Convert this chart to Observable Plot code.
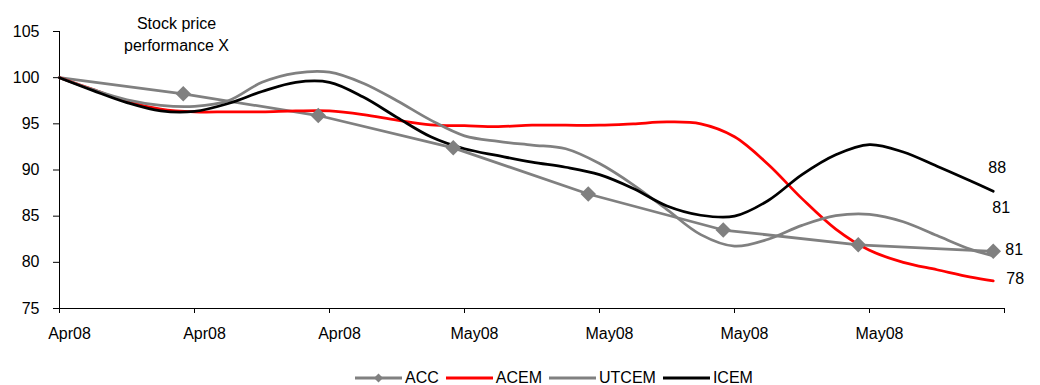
<!DOCTYPE html>
<html>
<head>
<meta charset="utf-8">
<script src="https://cdn.jsdelivr.net/npm/d3@7"></script>
<script src="https://cdn.jsdelivr.net/npm/@observablehq/plot@0.6"></script>
<style>
  body { margin: 0; background: #fff; font-family: "Liberation Sans", Arial, sans-serif; }
  #wrap { position: relative; width: 1040px; height: 385px; overflow: hidden; }
  #legend { position: absolute; top: 366px; left: 355px; height: 24px; display: flex; align-items: center; font-size: 16px; color: #000; }
  .item { display: flex; align-items: center; margin-right: 7px; }
  .item span { margin-left: 3px; }
</style>
</head>
<body>
<div id="wrap">
  <div id="chart"></div>
  <div id="legend"></div>
</div>
<script>
// Trading-day index along the x axis, one tick every 12 sessions
const tickDays = [0, 12, 24, 36, 48, 60, 72, 84];
const labelDays = [0, 12, 24, 36, 48, 60, 72];
const tickLabels = ["Apr08", "Apr08", "Apr08", "May08", "May08", "May08", "May08"];
const yTicks = [75, 80, 85, 90, 95, 100, 105];

// Rebased prices (start = 100), sampled every 3 sessions
const days = [0, 3, 6, 9, 12, 15, 18, 21, 24, 27, 30, 33, 36, 39, 42, 45, 48, 51, 54, 57, 60, 63, 66, 69, 72, 75, 78, 81, 83];
const acem  = [100, 98.7, 97.4, 96.6, 96.3, 96.3, 96.3, 96.4, 96.4, 96.0, 95.4, 94.9, 94.8, 94.7, 94.85, 94.85, 94.85, 95.0, 95.2, 95.0, 93.6, 90.6, 86.9, 83.6, 81.3, 80.0, 79.2, 78.4, 78.0];
const utcem = [100, 98.7, 97.6, 97.0, 96.9, 97.5, 99.5, 100.5, 100.6, 99.4, 97.5, 95.4, 93.7, 93.1, 92.7, 92.3, 90.7, 88.4, 85.7, 83.0, 81.75, 82.5, 84.0, 85.05, 85.2, 84.4, 82.9, 81.4, 80.7];
const icem  = [100, 98.6, 97.3, 96.4, 96.35, 97.2, 98.5, 99.5, 99.5, 97.9, 95.7, 93.6, 92.3, 91.55, 90.85, 90.3, 89.5, 88.0, 86.1, 85.1, 85.0, 86.7, 89.5, 91.65, 92.75, 91.95, 90.4, 88.8, 87.7];

// ACC is plotted weekly, with a marker at each weekly close
const accDays = [0, 11, 23, 35, 47, 59, 71, 83];
const acc = [100, 98.25, 95.9, 92.4, 87.4, 83.5, 81.9, 81.2];

const GREY = "#808080", RED = "#ff0000", BLACK = "#000000";
const fmt = d3.format(".0f");
const lastOf = a => a[a.length - 1];

const chart = Plot.plot({
  width: 1040,
  height: 345,
  marginTop: 31,
  marginLeft: 59,
  marginRight: 36,
  marginBottom: 37,
  style: { fontFamily: '"Liberation Sans", Arial, sans-serif', fontSize: "16px", color: "#000", background: "#fff", overflow: "visible" },
  x: { domain: [0, 84] },
  y: { domain: [75, 105] },
  marks: [
    Plot.axisY({ ticks: yTicks, tickSize: 6, tickPadding: 14, label: null }),
    Plot.axisX({ ticks: tickDays, tickSize: 5, tickFormat: () => "", label: null }),
    Plot.text(labelDays, { x: labelDays, frameAnchor: "bottom", text: (d, i) => tickLabels[i], dx: 10, dy: 19, lineAnchor: "top" }),
    Plot.ruleX([0], { y1: 75, y2: 105, stroke: BLACK }),
    Plot.ruleY([75], { stroke: BLACK }),

    Plot.line(accDays, { x: accDays, y: acc, stroke: GREY, strokeWidth: 2.75 }),
    Plot.line(days, { x: days, y: acem, stroke: RED, strokeWidth: 2.75, curve: "catmull-rom" }),
    Plot.line(days, { x: days, y: utcem, stroke: GREY, strokeWidth: 2.75, curve: "catmull-rom" }),
    Plot.line(days, { x: days, y: icem, stroke: BLACK, strokeWidth: 2.75, curve: "catmull-rom" }),
    Plot.dot(accDays.slice(1), { x: accDays.slice(1), y: acc.slice(1), symbol: "diamond2", r: 7, fill: GREY }),

    // closing values
    Plot.text([lastOf(icem)], { x: [83], y: d => d, text: fmt, dx: 4, dy: -23, lineAnchor: "middle", textAnchor: "middle" }),
    Plot.text([lastOf(utcem)], { x: [83], y: d => d, text: fmt, dx: 8, dy: -48, lineAnchor: "middle", textAnchor: "middle" }),
    Plot.text([lastOf(acc)], { x: [83], y: d => d, text: fmt, dx: 21, dy: -1, lineAnchor: "middle", textAnchor: "middle" }),
    Plot.text([lastOf(acem)], { x: [83], y: d => d, text: fmt, dx: 22, dy: -2, lineAnchor: "middle", textAnchor: "middle" }),

    Plot.text(["Stock price\nperformance X"], { frameAnchor: "top-left", dx: 117, dy: 1, textAnchor: "middle", lineAnchor: "middle", lineHeight: 1.375 })
  ]
});
document.getElementById("chart").appendChild(chart);

// Legend
const series = [
  { name: "ACC", color: GREY, marker: true },
  { name: "ACEM", color: RED },
  { name: "UTCEM", color: GREY },
  { name: "ICEM", color: BLACK }
];
const legend = document.getElementById("legend");
for (const s of series) {
  const item = document.createElement("div");
  item.className = "item";
  const marker = s.marker ? `<path d="M23.5,1.5 L28,6 L23.5,10.5 L19,6 Z" fill="${s.color}"/>` : "";
  item.innerHTML = `<svg width="47" height="12"><line x1="0" x2="47" y1="6" y2="6" stroke="${s.color}" stroke-width="3"/>${marker}</svg><span>${s.name}</span>`;
  legend.appendChild(item);
}
</script>
</body>
</html>
